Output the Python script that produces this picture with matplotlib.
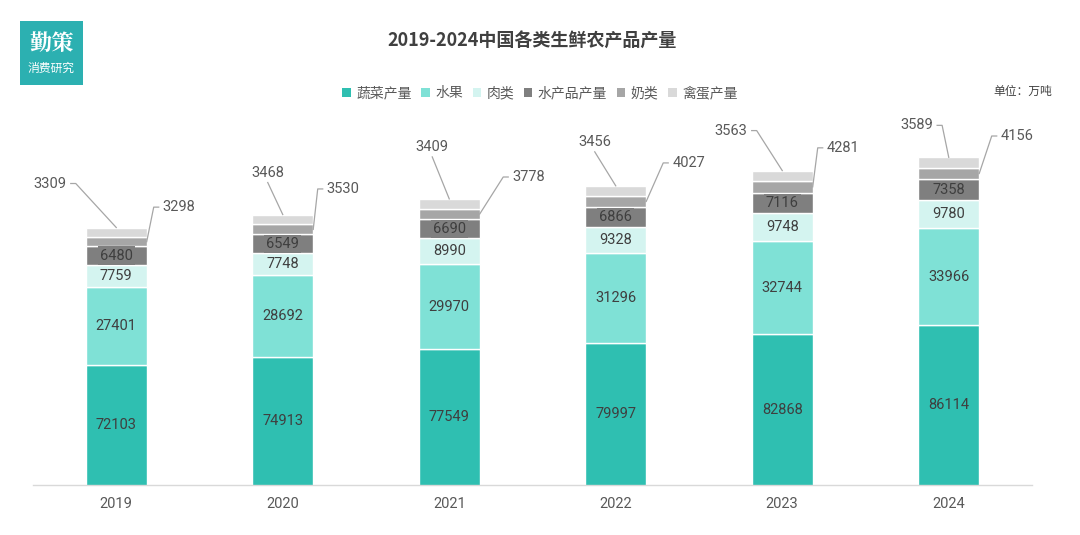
import matplotlib
matplotlib.use('Agg')
import matplotlib.pyplot as plt
from matplotlib import font_manager
from matplotlib.patches import Rectangle, Patch
from matplotlib.transforms import IdentityTransform
from matplotlib.lines import Line2D
import numpy as np

# ---------------- data ----------------
years = ['2019', '2020', '2021', '2022', '2023', '2024']
vegetables = [72103, 74913, 77549, 79997, 82868, 86114]
fruit = [27401, 28692, 29970, 31296, 32744, 33966]
meat = [7759, 7748, 8990, 9328, 9748, 9780]
aquatic = [6480, 6549, 6690, 6866, 7116, 7358]
milk = [3298, 3530, 3778, 4027, 4281, 4156]
eggs = [3309, 3468, 3409, 3456, 3563, 3589]
series_names = ['蔬菜产量', '水果', '肉类', '水产品产量', '奶类', '禽蛋产量']
title = '2019-2024中国各类生鲜农产品产量'
unit_text = '单位：万吨'

# ---------------- style ----------------
colors = ['#2FBFB1', '#7FE1D6', '#D4F4F0', '#7F7F7F', '#A6A6A6', '#D9D9D9']
CJK = ['Noto Sans CJK SC', 'DejaVu Sans']
avail = {f.name for f in font_manager.fontManager.ttflist}
num_font = 'Liberation Sans Narrow' if 'Liberation Sans Narrow' in avail else 'Roboto'
plt.rcParams['font.family'] = CJK

# label placement (pixels): egg label centre offset from bar-top centre, leader mode
egg_layout = [(-66, 44, 'side'), (-15, 42, 'below'), (-17, 52, 'below'),
              (-21, 44, 'below'), (-51, 40, 'side'), (-32, 32, 'side')]
# milk label left-edge offset from bar right edge at segment middle
milk_layout = [(16, 34.5), (13.5, 40.5), (32.5, 37), (26, 38.5), (14, 39), (21.5, 37.5)]

W, H = 1080, 535
fig = plt.figure(figsize=(W / 100, H / 100), dpi=100)
fig.patch.set_facecolor('white')

ax_l, ax_r, ax_b, ax_t = 33, 1032, 485, 120
ax = fig.add_axes([ax_l / W, 1 - ax_b / H, (ax_r - ax_l) / W, (ax_b - ax_t) / H])
ymin = 30000
ymax = ymin + (ax_b - ax_t) / 0.00285
ax.set_ylim(ymin, ymax)
ax.set_xlim(-0.5, len(years) - 0.5)

x = np.arange(len(years))
bw = 0.366
series = [vegetables, fruit, meat, aquatic, milk, eggs]
bottoms = np.zeros(len(years))
seg_mid = []
for vals, c in zip(series, colors):
    v = np.array(vals, dtype=float)
    ax.bar(x, v, bottom=bottoms, width=bw, color=c, edgecolor='white', linewidth=1.0, zorder=2)
    seg_mid.append((np.maximum(bottoms, ymin) + bottoms + v) / 2)
    bottoms = bottoms + v
tops = bottoms

# inner labels
for si in range(4):
    for i in range(len(years)):
        kw = dict(ha='center', va='center', fontsize=10.5, color='#3F3F3F',
                  family=num_font, zorder=4)
        if si == 3:
            kw['bbox'] = dict(boxstyle='square,pad=0.15', fc=colors[3], ec='none')
        ax.text(x[i], seg_mid[si][i], str(series[si][i]), **kw)

for s in ['top', 'right', 'left']:
    ax.spines[s].set_visible(False)
ax.spines['bottom'].set_color('#D9D9D9')
ax.spines['bottom'].set_linewidth(1.0)
ax.set_yticks([])
ax.set_xticks(x)
ax.set_xticklabels(years, fontsize=10.5, color='#595959', family=num_font)
ax.tick_params(axis='x', length=0, pad=9)

fig.canvas.draw()
renderer = fig.canvas.get_renderer()
ident = IdentityTransform()
lc = '#A6A6A6'

# outside labels with leader lines
for i in range(len(years)):
    # eggs
    ax_pt = ax.transData.transform((x[i], tops[i]))
    dx, dy, mode = egg_layout[i]
    lx, ly = ax_pt[0] + dx, ax_pt[1] + dy
    t = fig.text(lx, ly, str(eggs[i]), transform=ident, ha='center', va='center',
                 fontsize=10.5, color='#595959', family=num_font)
    bb = t.get_window_extent(renderer)
    if mode == 'side':
        xs = [bb.x1 + 4, bb.x1 + 9, ax_pt[0]]
        ys = [ly, ly, ax_pt[1]]
    else:
        xs = [lx, ax_pt[0]]
        ys = [bb.y0 - 3, ax_pt[1]]
    fig.add_artist(Line2D(xs, ys, transform=ident, color=lc, lw=0.9))
    # milk
    mp = ax.transData.transform((x[i] + bw / 2, seg_mid[4][i]))
    mdx, mdy = milk_layout[i]
    llx, lly = mp[0] + mdx, mp[1] + mdy
    fig.text(llx, lly, str(milk[i]), transform=ident, ha='left', va='center',
             fontsize=10.5, color='#595959', family=num_font)
    fig.add_artist(Line2D([llx - 4, llx - 9, mp[0]], [lly, lly, mp[1]],
                          transform=ident, color=lc, lw=0.9))

# title
fig.text(532 / W, 1 - 41 / H, title, ha='center', va='center', fontsize=13,
         fontweight='bold', color='#404040')

# legend
handles = [Patch(facecolor=c, edgecolor='none') for c in colors]
leg = fig.legend(handles, series_names, loc='center', bbox_to_anchor=(540 / W, 1 - 93 / H),
                 ncol=6, frameon=False, fontsize=10, handlelength=0.6, handleheight=0.6,
                 handletextpad=0.4, columnspacing=0.7)
for txt in leg.get_texts():
    txt.set_color('#595959')

fig.text(1052 / W, 1 - 91 / H, unit_text, ha='right', va='center', fontsize=8.5,
         color='#404040')

# logo
fig.add_artist(Rectangle((20 / W, 1 - 85 / H), 63 / W, 64 / H, transform=fig.transFigure,
                         facecolor='#2CB0B1', edgecolor='none'))
fig.text(51.5 / W, 1 - 44 / H, '勤策', ha='center', va='center', fontsize=16,
         fontweight='bold', color='white', family=['Noto Serif CJK SC', 'Noto Sans CJK SC'])
fig.text(51.5 / W, 1 - 68 / H, '消费研究', ha='center', va='center', fontsize=8.5,
         color='white')

fig.savefig('out.png', dpi=100, facecolor='white')
